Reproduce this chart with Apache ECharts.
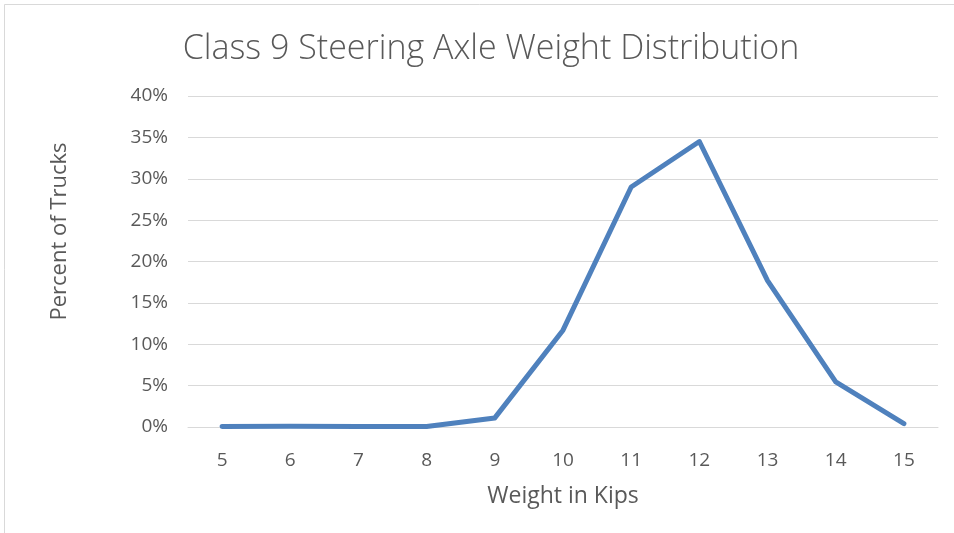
<!DOCTYPE html>
<html>
<head>
<meta charset="utf-8">
<script src="https://cdn.jsdelivr.net/npm/echarts@6/dist/echarts.min.js"></script>
<style>
  html, body { margin: 0; padding: 0; background: #ffffff; }
  #chart { width: 954px; height: 533px; }
</style>
</head>
<body>
<div id="chart"></div>
<script>
// Axle weight bins (kips) and share of trucks in each bin (%)
const weightKips = ['5', '6', '7', '8', '9', '10', '11', '12', '13', '14', '15'];
const percentTrucks = [0.05, 0.1, 0.05, 0.05, 1.1, 11.7, 29.0, 34.5, 17.7, 5.45, 0.4];

const FONT = '"Open Sans", Lato, sans-serif';
const TEXT = '#595959';

const chart = echarts.init(document.getElementById('chart'), null, { renderer: 'canvas' });

chart.setOption({
  animation: false,
  backgroundColor: '#ffffff',
  title: {
    text: 'Class 9 Steering Axle Weight Distribution',
    left: 486,
    top: 27,
    textAlign: 'center',
    textStyle: { fontFamily: FONT, fontSize: 34, fontWeight: 300, color: TEXT }
  },
  graphic: [{
    type: 'rect',
    shape: { x: 4.5, y: 4.5, width: 1000, height: 1000 },
    style: { fill: 'none', stroke: '#d9d9d9', lineWidth: 1 },
    silent: true
  }],
  grid: {
    left: 188, right: 16, top: 96, bottom: 106,
    containLabel: false,
    outerBoundsMode: 'none'
  },
  xAxis: {
    type: 'category',
    data: weightKips,
    boundaryGap: true,
    name: 'Weight in Kips',
    nameLocation: 'middle',
    nameGap: 58,
    nameTextStyle: { fontFamily: FONT, fontSize: 23, color: TEXT },
    axisLine: { show: true, lineStyle: { color: '#d9d9d9', width: 1 } },
    axisTick: { show: false },
    axisLabel: { fontFamily: FONT, fontSize: 19, color: TEXT, margin: 24 }
  },
  yAxis: {
    type: 'value',
    min: 0,
    max: 40,
    interval: 5,
    name: 'Percent of Trucks',
    nameLocation: 'middle',
    nameGap: 117,
    nameRotate: 90,
    nameTextStyle: { fontFamily: FONT, fontSize: 22, color: TEXT, padding: [0, 0, 0, 60] },
    axisLine: { show: false },
    axisTick: { show: false },
    axisLabel: { fontFamily: FONT, fontSize: 19, color: TEXT, margin: 20, formatter: '{value}%' },
    splitLine: { lineStyle: { color: '#d9d9d9', width: 1 } }
  },
  series: [{
    type: 'line',
    data: percentTrucks,
    symbol: 'none',
    lineStyle: { color: '#4f81bd', width: 5, cap: 'round', join: 'round' },
    itemStyle: { color: '#4f81bd' }
  }]
});
</script>
</body>
</html>
